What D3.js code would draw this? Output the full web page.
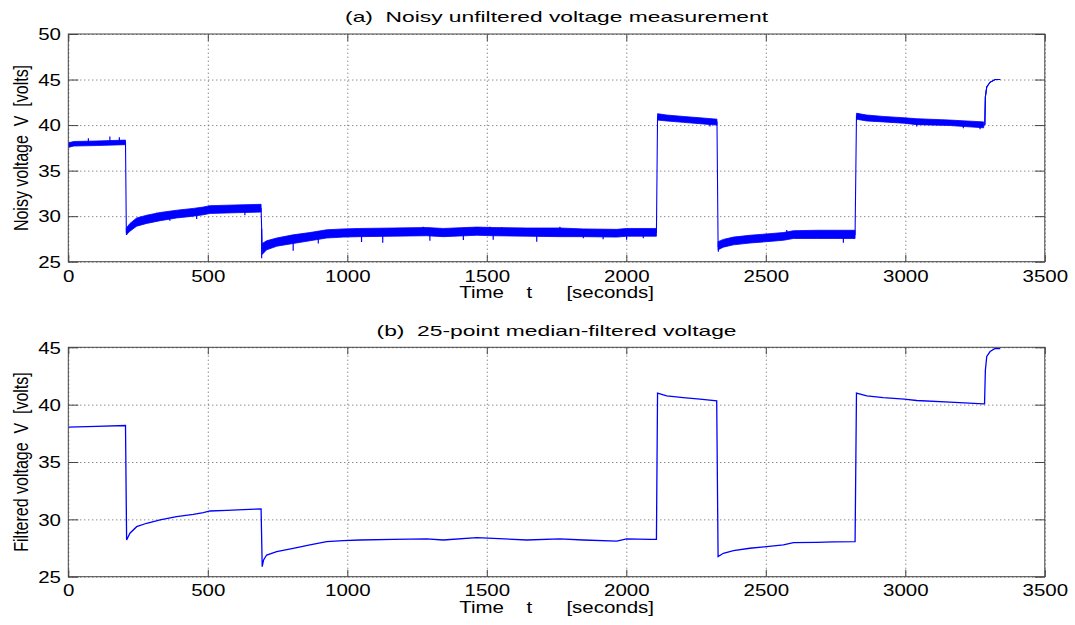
<!DOCTYPE html>
<html><head><meta charset="utf-8">
<script src="https://cdn.jsdelivr.net/npm/d3@7"></script>
<style>
body{margin:0;background:#fff;}
svg text{font-family:"Liberation Sans",Arial,Helvetica,sans-serif;fill:#000;white-space:pre;}
</style></head><body>
<svg id="c" width="1075" height="625"></svg>
<script>
// ---------------- data ----------------
const xTicks = [0, 500, 1000, 1500, 2000, 2500, 3000, 3500];
const yTicksTop = [25, 30, 35, 40, 45, 50];
const yTicksBottom = [25, 30, 35, 40, 45];
const titleTop = "(a)  Noisy unfiltered voltage measurement";
const titleBottom = "(b)  25-point median-filtered voltage";
const xLabel = "Time    t      [seconds]";
const yLabelTop = "Noisy voltage  V  [volts]";
const yLabelBottom = "Filtered voltage  V  [volts]";

// times (s) at which the voltage steps
const jumpTimes = [207, 693, 2110, 2327, 2823, 3283];

// noisy signal: envelope of the noise band (volts) at sampled times
const noisyTime = [0, 20, 100, 205,
  208, 221, 245, 281, 329, 388, 448, 484, 508, 568, 627, 691,
  695, 711, 747, 806, 866, 926, 986, 1045, 1165, 1284, 1344, 1464, 1523, 1643, 1762, 1846, 1966, 2001, 2085, 2108,
  2112, 2145, 2204, 2264, 2325,
  2329, 2348, 2384, 2443, 2503, 2563, 2599, 2682, 2742, 2820,
  2825, 2862, 2921, 2996, 3041, 3160, 3281,
  3285, 3287, 3292, 3304, 3322, 3340];
const noisyLow = [37.55, 37.7, 37.75, 37.85,
  27.95, 28.35, 28.9, 29.2, 29.5, 29.8, 30.0, 30.15, 30.3, 30.35, 30.4, 30.45,
  25.8, 26.3, 26.7, 27.0, 27.3, 27.6, 27.7, 27.75, 27.8, 27.85, 27.75, 27.9, 27.85, 27.8, 27.75, 27.75, 27.7, 27.8, 27.8, 27.8,
  40.55, 40.45, 40.3, 40.15, 40.0,
  26.3, 26.6, 26.85, 27.05, 27.2, 27.35, 27.55, 27.55, 27.55, 27.55,
  40.65, 40.45, 40.35, 40.2, 40.05, 39.95, 39.7,
  40.05, 43.1, 44.2, 44.7, 45.0, 45.0];
const noisyHigh = [38.05, 38.2, 38.25, 38.35,
  28.7, 29.2, 29.8, 30.1, 30.4, 30.65, 30.85, 31.0, 31.15, 31.2, 31.25, 31.3,
  27.0, 27.3, 27.6, 27.95, 28.2, 28.5, 28.6, 28.65, 28.7, 28.75, 28.65, 28.8, 28.75, 28.7, 28.7, 28.6, 28.55, 28.65, 28.65, 28.65,
  41.25, 41.1, 40.95, 40.8, 40.65,
  27.2, 27.45, 27.7, 27.9, 28.05, 28.2, 28.4, 28.45, 28.45, 28.45,
  41.3, 41.1, 40.95, 40.8, 40.7, 40.55, 40.35,
  40.05, 43.1, 44.2, 44.7, 45.0, 45.0];

// isolated noise spikes visible in the noisy trace
const spikeTime = [72, 149, 183, 209, 317, 364, 424, 460, 633, 693, 806, 896, 1051, 1127, 1272, 1296, 1416, 1511, 1523, 1553, 1679, 1726,
  1762, 1846, 1917, 2001, 2061, 2121, 2145, 2300, 2330, 2371, 2575, 2598, 2682, 2742, 2778, 2832, 2873, 3041, 3208, 3268];
const spikeValue = [38.56, 38.74, 38.67, 27.93, 30.38, 29.5, 30.68, 29.7, 30.1, 25.37, 26.2, 27.0, 27.15, 27.07, 28.85, 27.3, 27.37, 28.85, 27.4, 28.78, 27.2, 28.67,
  28.85, 27.57, 27.46, 27.4, 27.57, 41.23, 41.0, 39.84, 26.1, 26.83, 28.48, 28.37, 28.37, 28.41, 27.09, 41.3, 41.0, 39.84, 39.66, 39.55];

// 25-point median-filtered signal
const filteredTime = [0, 100, 205, 209, 221, 245, 281, 329, 388, 448, 484, 508, 568, 627, 691,
  695, 700, 711, 747, 806, 866, 926, 986, 1045, 1165, 1284, 1344, 1464, 1523, 1643, 1762, 1846, 1966, 2001, 2085, 2108,
  2112, 2145, 2204, 2264, 2324,
  2329, 2348, 2384, 2443, 2503, 2563, 2599, 2682, 2742, 2820,
  2825, 2862, 2921, 2996, 3041, 3160, 3280,
  3284, 3287, 3292, 3304, 3322, 3340];
const filteredValue = [38.04, 38.1, 38.18, 28.2, 28.79, 29.36, 29.66, 29.95, 30.24, 30.44, 30.59, 30.73, 30.79, 30.85, 30.91,
  25.87, 26.46, 26.89, 27.18, 27.47, 27.77, 28.05, 28.14, 28.2, 28.26, 28.29, 28.2, 28.4, 28.35, 28.2, 28.29, 28.2, 28.11, 28.29, 28.26, 28.26,
  41.0, 40.77, 40.62, 40.48, 40.33,
  26.75, 27.04, 27.27, 27.48, 27.62, 27.77, 27.97, 28.0, 28.03, 28.05,
  41.0, 40.77, 40.62, 40.48, 40.36, 40.22, 40.07,
  40.07, 43.0, 44.2, 44.63, 44.9, 44.88];

// ---------------- drawing ----------------
const SX = 1.28;          // horizontal glyph stretch of the original figure
const FS = 16;
const BLUE = "#0000ff";
const svg = d3.select("#c");
const x = d3.scaleLinear().domain([0, 3500]).range([68.3, 1044.8]);
const left = x.range()[0], right = x.range()[1];

function panel(cfg, id) {
  const y = d3.scaleLinear().domain(cfg.yDomain).range([cfg.bottom, cfg.top]);
  const h = cfg.bottom - cfg.top;
  const g = svg.append("g");

  g.append("clipPath").attr("id", "clip" + id).append("rect")
    .attr("x", left).attr("y", cfg.top).attr("width", right - left).attr("height", h);

  // grid
  const gridStyle = a => { a.select(".domain").remove(); a.selectAll("line").attr("stroke", "#5a5a5a").attr("stroke-dasharray", "1,3"); };
  g.append("g").attr("transform", `translate(0,${cfg.bottom})`)
    .call(d3.axisBottom(x).tickValues(xTicks).tickSize(-h).tickFormat(""))
    .call(gridStyle);
  g.append("g").attr("transform", `translate(${left},0)`)
    .call(d3.axisLeft(y).tickValues(cfg.yTicks).tickSize(-(right - left)).tickFormat(""))
    .call(gridStyle);

  const plot = g.append("g").attr("clip-path", `url(#clip${id})`);
  cfg.draw(plot, y);

  // box
  g.append("rect").attr("x", left).attr("y", cfg.top).attr("width", right - left).attr("height", h)
    .attr("fill", "none").attr("stroke", "#444").attr("stroke-width", 1);

  const styleAxis = a => {
    a.attr("font-size", FS).attr("font-family", null);
    a.select(".domain").remove();
    a.selectAll("line").attr("stroke", "#444");
  };
  // bottom ticks + labels
  g.append("g").attr("transform", `translate(0,${cfg.bottom})`)
    .call(d3.axisBottom(x).tickValues(xTicks).tickSizeInner(-7).tickSizeOuter(0).tickFormat(d3.format("d")))
    .call(styleAxis)
    .call(a => a.selectAll("text").attr("y", cfg.tickLabelY).attr("dy", null).attr("transform", `scale(${SX},1)`));
  // top ticks
  g.append("g").attr("transform", `translate(0,${cfg.top})`)
    .call(d3.axisTop(x).tickValues(xTicks).tickSizeInner(-7).tickSizeOuter(0).tickFormat(""))
    .call(styleAxis);
  // left ticks + labels
  g.append("g").attr("transform", `translate(${left},0)`)
    .call(d3.axisLeft(y).tickValues(cfg.yTicks).tickSizeInner(-10).tickSizeOuter(0).tickFormat(d3.format("d")))
    .call(styleAxis)
    .call(a => a.selectAll("text").attr("x", -7.3 / SX).attr("dy", "0.36em").attr("transform", `scale(${SX},1)`));
  // right ticks
  g.append("g").attr("transform", `translate(${right},0)`)
    .call(d3.axisRight(y).tickValues(cfg.yTicks).tickSizeInner(-10).tickSizeOuter(0).tickFormat(""))
    .call(styleAxis);

  const cx = (left + right) / 2;
  g.append("text").attr("transform", `translate(${cx},${cfg.titleY}) scale(${SX},1)`)
    .attr("text-anchor", "middle").attr("font-size", 15)
    .attr("textLength", cfg.titleW / SX).attr("lengthAdjust", "spacingAndGlyphs").text(cfg.title);
  g.append("text").attr("transform", `translate(${cx},${cfg.xLabelY}) scale(${SX},1)`)
    .attr("text-anchor", "middle").attr("font-size", FS).text(xLabel);
  g.append("text").attr("transform", `translate(27.5,${cfg.yLabelC}) rotate(-90) scale(1,${SX})`)
    .attr("text-anchor", "middle").attr("font-size", FS).text(cfg.yLabel);
}

const noisy = noisyTime.map((t, i) => ({ t, lo: noisyLow[i], hi: noisyHigh[i], seg: d3.bisectRight(jumpTimes, t) }));
const filtered = filteredTime.map((t, i) => ({ t, v: filteredValue[i] }));

function drawNoisy(p, y) {
  const area = d3.area().x(d => x(d.t)).y0(d => y(d.lo)).y1(d => y(d.hi));
  d3.groups(noisy, d => d.seg).forEach(([k, pts]) => {
    p.append("path").attr("d", area(pts)).attr("fill", BLUE).attr("stroke", BLUE).attr("stroke-width", 0.8);
  });
  const line = d3.line().x(d => x(d.t)).y(d => y((d.lo + d.hi) / 2));
  p.append("path").attr("d", line(noisy)).attr("fill", "none").attr("stroke", BLUE).attr("stroke-width", 1.1);
  const mid = d3.scaleLinear().domain(noisyTime).range(noisy.map(d => (d.lo + d.hi) / 2));
  p.selectAll("line.spike").data(spikeTime).join("line").attr("class", "spike")
    .attr("x1", d => x(d)).attr("x2", d => x(d))
    .attr("y1", d => y(mid(d))).attr("y2", (d, i) => y(spikeValue[i]))
    .attr("stroke", BLUE).attr("stroke-width", 1.2);
}
function drawFiltered(p, y) {
  const line = d3.line().x(d => x(d.t)).y(d => y(d.v));
  p.append("path").attr("d", line(filtered)).attr("fill", "none").attr("stroke", BLUE).attr("stroke-width", 1.3);
}

panel({
  top: 34, bottom: 261.7, yDomain: [25, 50], yTicks: yTicksTop, draw: drawNoisy, tickLabelY: 20,
  title: titleTop, titleY: 22, titleW: 423, xLabelY: 298, yLabel: yLabelTop, yLabelC: 148
}, 0);
panel({
  top: 347.3, bottom: 576.7, yDomain: [25, 45], yTicks: yTicksBottom, draw: drawFiltered, tickLabelY: 19,
  title: titleBottom, titleY: 336, titleW: 360, xLabelY: 613, yLabel: yLabelBottom, yLabelC: 462
}, 1);
</script></body></html>
